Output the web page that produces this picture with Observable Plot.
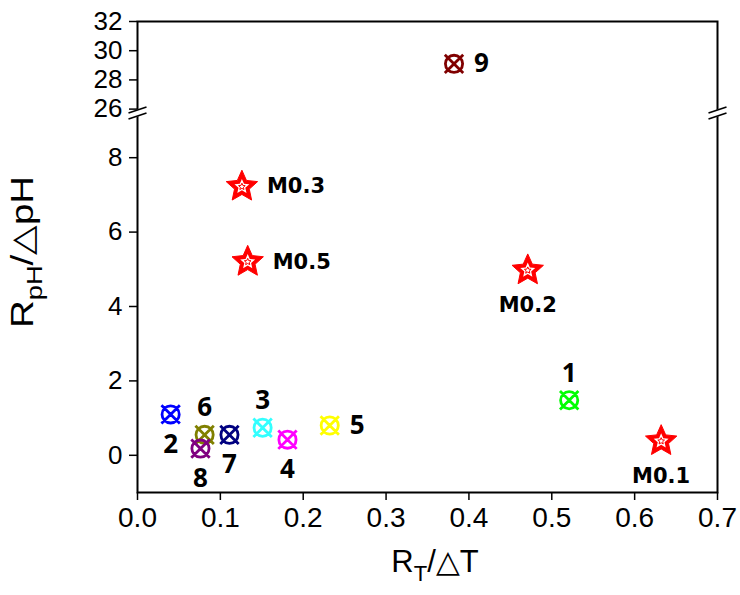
<!DOCTYPE html>
<html><head><meta charset="utf-8">
<script src="https://cdn.jsdelivr.net/npm/d3@7"></script>
<script src="https://cdn.jsdelivr.net/npm/@observablehq/plot@0.6"></script>
<style>body{margin:0;background:#fff}</style>
</head><body><div id="chart"></div>
<script>
// ---- data ----
const sampleIds = ["1", "2", "3", "4", "5", "6", "7", "8", "9"];
const sampleX = [0.521, 0.040, 0.151, 0.181, 0.232, 0.081, 0.111, 0.076, 0.382];
const sampleY = [1.48, 1.10, 0.74, 0.42, 0.80, 0.55, 0.55, 0.18, 29.1];
const sampleColors = ["#00ff00", "#0000ff", "#33ffff", "#ff00ff", "#ffff00", "#808000", "#000080", "#800080", "#800000"];
const sampleLabelSide = ["above", "below", "above", "below", "right", "above", "below", "below", "right"];
const starIds = ["M0.1", "M0.2", "M0.3", "M0.5"];
const starX = [0.632, 0.471, 0.126, 0.133];
const starY = [0.38, 4.97, 7.22, 5.20];
const starLabelSide = ["below", "below", "right", "right"];
const xTicks = [0, 0.1, 0.2, 0.3, 0.4, 0.5, 0.6, 0.7];
const yTicks = [0, 2, 4, 6, 8, 26, 28, 30, 32];
const yLower = [-1, 9.2];     // lower segment of the broken axis
const yUpper = [25.73, 32];   // upper segment of the broken axis
const upperScale = 0.3925;    // upper segment is compressed

const samples = sampleIds.map((id, i) => ({id, x: sampleX[i], y: sampleY[i], color: sampleColors[i], side: sampleLabelSide[i]}));
const stars = starIds.map((id, i) => ({id, x: starX[i], y: starY[i], side: starLabelSide[i]}));
const breaks = [{x: xTicks[0], y: yLower[1]}, {x: xTicks[xTicks.length - 1], y: yLower[1]}];

// broken-axis transform (piecewise linear) and its inverse
const brk = v => v <= yLower[1] ? v : yLower[1] + (v - yUpper[0]) * upperScale;
const unbrk = v => v <= yLower[1] + 1e-9 ? v : yUpper[0] + (v - yLower[1]) / upperScale;

// ---- layout ----
const W = 740, H = 595, mt = 21, mb = 103, ml = 137, mr = 23;

// ---- symbols ----
const circleTimes = {draw(ctx) {
  const r = 8.6, a = 9.2;
  ctx.moveTo(r, 0); ctx.arc(0, 0, r, 0, 2 * Math.PI);
  ctx.moveTo(-a, -a); ctx.lineTo(a, a);
  ctx.moveTo(-a, a); ctx.lineTo(a, -a);
}};
function starSymbol(R, ratio) {
  return {draw(ctx) {
    for (let i = 0; i < 10; i++) {
      const rr = i % 2 ? R * ratio : R;
      const ang = -Math.PI / 2 + i * Math.PI / 5;
      const px = rr * Math.cos(ang), py = rr * Math.sin(ang);
      if (i) ctx.lineTo(px, py); else ctx.moveTo(px, py);
    }
    ctx.closePath();
  }};
}
const breakGap = {draw(ctx) {
  ctx.moveTo(-4, -1.7); ctx.lineTo(4, -4.3); ctx.lineTo(4, 1.7); ctx.lineTo(-4, 4.3); ctx.closePath();
}};
const breakLines = {draw(ctx) {
  ctx.moveTo(-9, 0); ctx.lineTo(9, -6);
  ctx.moveTo(-9, 6); ctx.lineTo(9, 0);
}};

const digitFont = {fontFamily: "Open Sans", fontWeight: "bold", fontSize: 26, fill: "black"};
const mFont = {fontFamily: "DejaVu Sans", fontWeight: "bold", fontSize: 21, fill: "black"};

const plot = Plot.plot({
  width: W, height: H,
  marginTop: mt, marginBottom: mb, marginLeft: ml, marginRight: mr,
  style: {fontFamily: "Liberation Sans, Arial, sans-serif", fontSize: "26px", background: "white", color: "black"},
  x: {domain: [xTicks[0], xTicks[xTicks.length - 1]]},
  y: {transform: brk, domain: [brk(yLower[0]), brk(yUpper[1])]},
  marks: [
    Plot.frame({stroke: "black", strokeWidth: 2}),
    Plot.axisX({ticks: xTicks, tickFormat: d3.format(".1f"), tickSize: 8, tickPadding: 7, fontSize: 28, label: null, strokeWidth: 1.5}),
    Plot.axisY({ticks: yTicks.map(brk), tickFormat: v => String(Math.round(unbrk(v))), tickSize: 8, tickPadding: 7, fontSize: 26, label: null, strokeWidth: 1.5}),
    Plot.dot(breaks, {x: "x", y: "y", symbol: breakGap, fill: "white", stroke: "white", strokeWidth: 1}),
    Plot.dot(breaks, {x: "x", y: "y", symbol: breakLines, fill: "none", stroke: "black", strokeWidth: 1.6}),
    // sample markers
    Plot.dot(samples, {x: "x", y: "y", symbol: circleTimes, fill: "none", stroke: "color", strokeWidth: 2.8}),
    // star markers
    Plot.dot(stars, {x: "x", y: "y", symbol: starSymbol(16.5, 0.47), fill: "#ff0000", stroke: "#ff0000", strokeWidth: 1}),
    Plot.dot(stars, {x: "x", y: "y", symbol: starSymbol(7.8, 0.46), fill: "white", stroke: "none"}),
    Plot.dot(stars, {x: "x", y: "y", symbol: starSymbol(3.5, 0.46), fill: "none", stroke: "#ff0000", strokeWidth: 1}),
    // labels
    Plot.text(samples.filter(d => d.side === "above"), {x: "x", y: "y", text: "id", dy: -27, ...digitFont}),
    Plot.text(samples.filter(d => d.side === "below"), {x: "x", y: "y", text: "id", dy: 30, ...digitFont}),
    Plot.text(samples.filter(d => d.side === "right"), {x: "x", y: "y", text: "id", dx: 20, textAnchor: "start", ...digitFont}),
    Plot.text(stars.filter(d => d.side === "below"), {x: "x", y: "y", text: "id", dy: 35, ...mFont}),
    Plot.text(stars.filter(d => d.side === "right"), {x: "x", y: "y", text: "id", dx: 25, textAnchor: "start", ...mFont})
  ]
});

// axis titles with subscripts
const svg = d3.select(plot);
const xt = svg.append("text")
  .attr("x", (ml + W - mr) / 2 + 8).attr("y", H - 23)
  .attr("text-anchor", "middle")
  .style("font-family", "Liberation Sans, Arial, sans-serif").style("font-size", "31px").attr("fill", "black");
xt.append("tspan").text("R");
xt.append("tspan").attr("dy", 9).style("font-size", "22px").text("T");
xt.append("tspan").attr("dy", -9).text("/\u25B3T");

const yt = svg.append("text")
  .attr("transform", `translate(33, 252) rotate(-90)`)
  .attr("text-anchor", "middle")
  .attr("textLength", 152).attr("lengthAdjust", "spacingAndGlyphs")
  .style("font-family", "Liberation Sans, Arial, sans-serif").style("font-size", "31px").attr("fill", "black");
yt.append("tspan").text("R");
yt.append("tspan").attr("dy", 9).style("font-size", "22px").text("pH");
yt.append("tspan").attr("dy", -9).text("/\u25B3pH");

document.getElementById("chart").appendChild(plot);
</script>
</body></html>
